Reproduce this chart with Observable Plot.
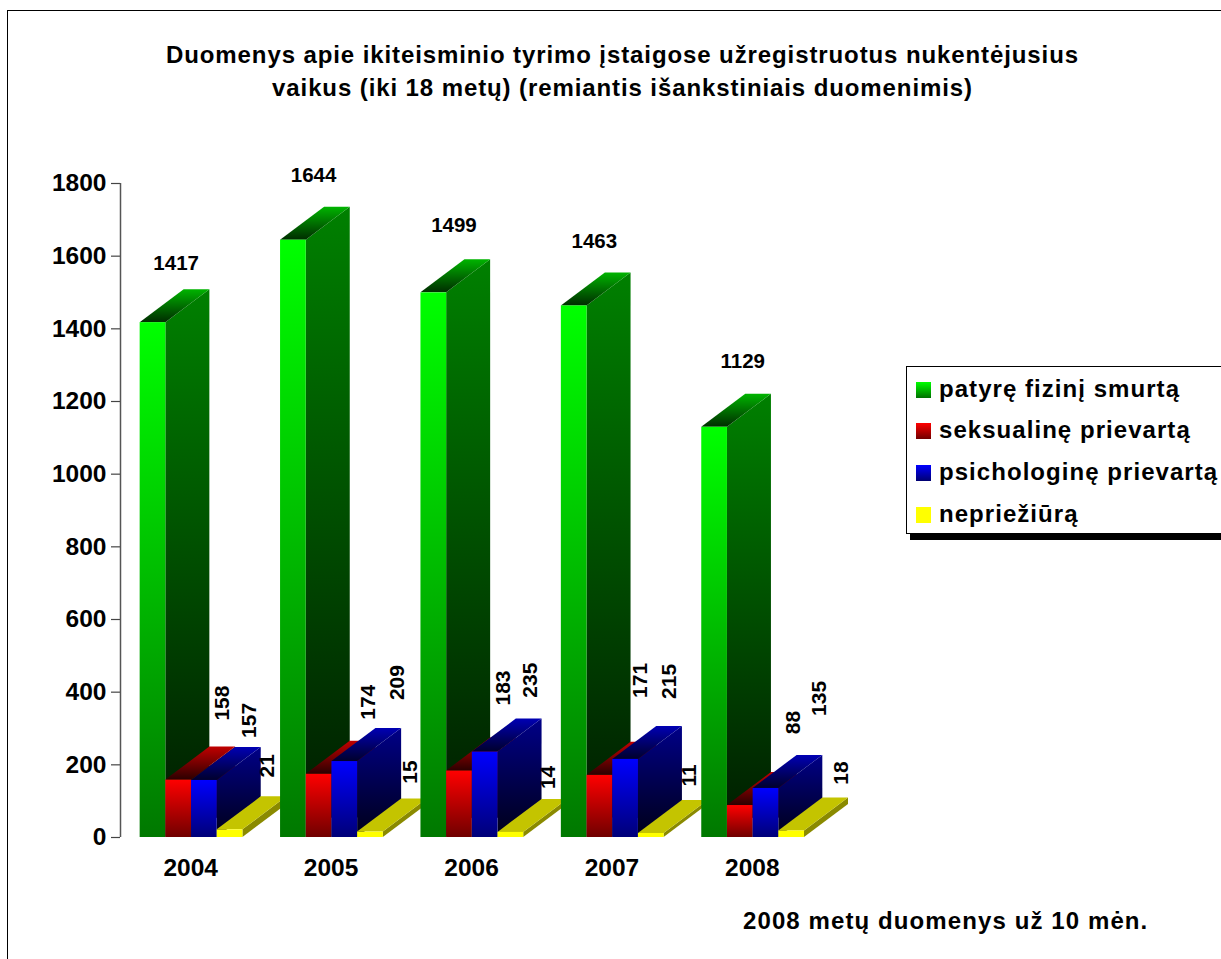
<!DOCTYPE html>
<html><head><meta charset="utf-8">
<script src="https://cdn.jsdelivr.net/npm/d3@7"></script>
<script src="https://cdn.jsdelivr.net/npm/@observablehq/plot@0.6"></script>
<style>
html,body{margin:0;padding:0;background:#fff;overflow:hidden}
#page{position:relative;width:1221px;height:959px;font-family:"Liberation Sans",Arial,sans-serif;font-weight:bold;color:#000;overflow:hidden}
#frame{position:absolute;left:7px;top:10px;width:1220px;height:960px;border:1px solid #000;box-sizing:border-box}
#title{position:absolute;left:0;width:1245px;top:38px;text-align:center;font-size:24px;line-height:33px;letter-spacing:.9px;white-space:nowrap}
#caption{position:absolute;left:743px;top:907px;font-size:24px;letter-spacing:1.1px;white-space:nowrap}
#legend{position:absolute;left:906px;top:366px;width:340px;height:166px;border:1px solid #000;background:#fff;box-shadow:4px 6px 0 #000;box-sizing:content-box}
.li{position:absolute;left:32px;font-size:24px;white-space:nowrap;letter-spacing:1.05px}
.sw{position:absolute;left:9px;width:15px;height:16px}
svg.plot{position:absolute;left:0;top:0}
</style></head><body>
<div id="page"><div id="frame"></div><div id="plot"></div>
<div id="title"></div><div id="legend"></div><div id="caption"></div></div>
<script>
const titleLines = ["Duomenys apie ikiteisminio tyrimo įstaigose užregistruotus nukentėjusius","vaikus (iki 18 metų) (remiantis išankstiniais duomenimis)"];
const captionText = "2008 metų duomenys už 10 mėn.";
const years = [2004,2005,2006,2007,2008];
const seriesNames = ["patyrę fizinį smurtą","seksualinę prievartą","psichologinę prievartą","nepriežiūrą"];
const fizinis = [1417,1644,1499,1463,1129];
const seksualine = [158,174,183,171,88];
const psichologine = [157,209,235,215,135];
const nepriezidra = [21,15,14,11,18];
const yTicks = [0,200,400,600,800,1000,1200,1400,1600,1800];
const allSeries = [fizinis,seksualine,psichologine,nepriezidra];

// face colours per series: front top/bottom, side top/bottom, top back/front
const faces = [
 {f:["#00ff00","#007800"],s:["#008000","#001a00"],t:["#00b400","#002c00"]},
 {f:["#ff0000","#700000"],s:["#800000","#1a0000"],t:["#c00000","#2c0000"]},
 {f:["#0000ff","#000078"],s:["#000088","#000018"],t:["#0000b4","#00002c"]},
 {f:["#ffff00","#ffff00"],s:["#8a8a00","#8a8a00"],t:["#c4c400","#c4c400"]}
];
const DX=44, DY=-33, start=-0.36, bw=0.183;

const bars = years.flatMap((yr,c)=>allSeries.map((vals,s)=>({year:yr,s,value:vals[c]})));

// label nudges (px) relative to the front-left of the top of each bar
const nudgeGreen=[[36,-59],[33,-65],[33,-67],[33,-65],[41,-66]];
const nudgeRed=[[56,-77],[62,-72],[57,-83],[53,-95],[66,-83]];
const nudgeBlue=[[58,-60],[65,-79],[58,-72],[57,-78],[66,-90]];
const nudgeYellow=[[50,-64],[53,-60],[50,-55],[51,-58],[62,-58]];
const nudges=[nudgeGreen,nudgeRed,nudgeBlue,nudgeYellow];

function defsMark(){
  const ns="http://www.w3.org/2000/svg";
  const defs=document.createElementNS(ns,"defs");
  const add=(id,a,b)=>{const g=document.createElementNS(ns,"linearGradient");
    g.setAttribute("id",id);g.setAttribute("x1",0);g.setAttribute("x2",0);g.setAttribute("y1",0);g.setAttribute("y2",1);
    [[0,a],[1,b]].forEach(([o,c])=>{const st=document.createElementNS(ns,"stop");st.setAttribute("offset",o);st.setAttribute("stop-color",c);g.appendChild(st);});
    defs.appendChild(g);};
  faces.forEach((fc,i)=>{add("f"+i,...fc.f);add("s"+i,...fc.s);add("t"+i,...fc.t);});
  return defs;
}

function render3d(index,scales,values){
  const g=d3.create("svg:g");
  for(const i of index){
    const b=bars[i];
    const l=values.x1[i], r=values.x2[i], top=values.y2[i], bot=values.y1[i];
    const pts=a=>a.map(p=>p.join(",")).join(" ");
    g.append("polygon").attr("points",pts([[r,top],[r+DX,top+DY],[r+DX,bot+DY],[r,bot]])).attr("fill",`url(#s${b.s})`);
    g.append("polygon").attr("points",pts([[l,top],[l+DX,top+DY],[r+DX,top+DY],[r,top]])).attr("fill",`url(#t${b.s})`);
    g.append("rect").attr("x",l).attr("y",top).attr("width",r-l).attr("height",bot-top).attr("fill",`url(#f${b.s})`);
  }
  return g.node();
}

const labelMarks = bars.map(b=>{
  const c=years.indexOf(b.year), [dx,dy]=nudges[b.s][c];
  return Plot.text([b],{
    x:d=>d.year+start+d.s*bw, y:d=>d.value, text:d=>String(d.value),
    dx, dy, rotate:b.s===0?0:-90, fontSize:b.s===0?20.5:21, fontWeight:"bold", fill:"#000",
    textAnchor:"middle", lineAnchor:"middle", fontFamily:"Liberation Sans"
  });
});

const plot = Plot.plot({
  width:1221,height:959,
  marginLeft:120,marginRight:399,marginTop:183,marginBottom:122,
  style:{background:"transparent",fontFamily:"Liberation Sans",overflow:"visible"},
  x:{type:"linear",domain:[2003.5,2008.5]},
  y:{domain:[0,1800],range:[837,183]},
  marks:[
    defsMark,
    Plot.axisY({ticks:yTicks,tickFormat:d=>String(d),tickSize:9,tickPadding:5,fontSize:24.5,fontWeight:"bold",label:null,stroke:"#444",strokeWidth:1.2,fill:"#000",textStroke:"none"}),
    Plot.axisX({ticks:years,tickFormat:d=>String(d),tickSize:0,tickPadding:21,fontSize:24.5,fontWeight:"bold",label:null,fill:"#000"}),
    Plot.ruleX([2003.5],{y1:0,y2:1800,stroke:"#555",strokeWidth:1.5}),
    Plot.rect(bars,{x1:d=>d.year+start+d.s*bw,x2:d=>d.year+start+(d.s+1)*bw,y1:0,y2:"value",render:render3d}),
    ...labelMarks
  ]
});
document.getElementById("plot").appendChild(plot);
document.getElementById("title").innerHTML=titleLines.join("<br>");
document.getElementById("caption").textContent=captionText;
const leg=document.getElementById("legend");
const tops=[8,49,91,133], swGrad=["#00ff00,#007000","#ff0000,#700000","#0000ff,#000070","#ffff00,#ffff00"];
seriesNames.forEach((n,i)=>{
  const sw=document.createElement("div");sw.className="sw";sw.style.top=(tops[i]+7)+"px";sw.style.background=`linear-gradient(${swGrad[i]})`;leg.appendChild(sw);
  const t=document.createElement("div");t.className="li";t.style.top=tops[i]+"px";t.textContent=n;leg.appendChild(t);
});
</script></body></html>
